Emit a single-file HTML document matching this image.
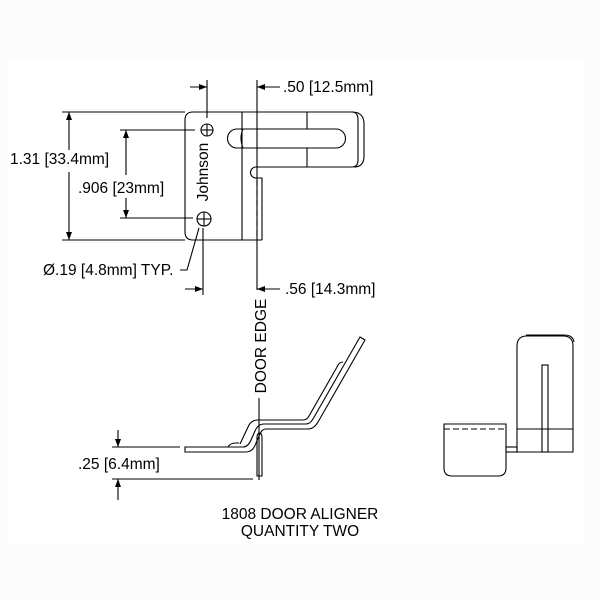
<!DOCTYPE html>
<html><head><style>
body{margin:0;background:#fcfcfc}
svg{display:block}
text{font-family:"Liberation Sans",Arial,sans-serif;fill:#000}
</style></head><body>
<svg width="600" height="600" viewBox="0 0 600 600" xmlns="http://www.w3.org/2000/svg">
<defs><marker id="a" markerWidth="8" markerHeight="6" refX="8" refY="3" orient="auto" markerUnits="userSpaceOnUse"><path d="M0,0L8,3L0,6z" fill="#000"/></marker></defs>
<rect x="7" y="60" width="578" height="485" fill="#fff"/>
<g fill="none" stroke="#000" stroke-width="1.1">
<!-- plate -->
<path d="M262,240 H193 Q185,240 185,232 V120 Q185,112 193,112 H352 Q358,112 358,120 V160 Q358,167 352,167 H256 M262,240 V178 H256"/>
<path d="M352,112 Q364,112 364,124 V156 Q364,167 354,167"/>
<path d="M256,167 A5.5,5.5 0 0 0 256,178"/>
<line x1="242" y1="112" x2="242" y2="240"/>
<path d="M237,129 H336 A9.5,9.5 0 0 1 336,148 H237 A9.5,9.5 0 0 1 237,129 Z"/>
<path d="M243,129 Q239,138 243,148"/>
<line x1="307" y1="112" x2="307" y2="129"/><line x1="307" y1="148" x2="307" y2="167"/>
<line x1="257" y1="180" x2="257" y2="240" stroke-dasharray="6,4"/>
<circle cx="207" cy="130" r="6"/><line x1="201" y1="130" x2="213" y2="130"/><line x1="207" y1="124" x2="207" y2="136"/>
<circle cx="204" cy="219" r="7"/><line x1="197" y1="219" x2="211" y2="219"/><line x1="204" y1="212" x2="204" y2="226"/>
<!-- dims -->
<line x1="62" y1="112" x2="185" y2="112"/><line x1="62" y1="240" x2="185" y2="240"/>
<line x1="69" y1="150" x2="69" y2="112" marker-end="url(#a)"/><line x1="69" y1="172" x2="69" y2="240" marker-end="url(#a)"/>
<line x1="120" y1="130" x2="195" y2="130"/><line x1="120" y1="218" x2="193" y2="218"/>
<line x1="126" y1="175" x2="126" y2="130" marker-end="url(#a)"/><line x1="126" y1="198" x2="126" y2="218" marker-end="url(#a)"/>
<line x1="207" y1="80" x2="207" y2="118"/>
<line x1="190" y1="87" x2="207" y2="87" marker-end="url(#a)"/>
<line x1="257" y1="80" x2="257" y2="290"/>
<line x1="280" y1="87" x2="257" y2="87" marker-end="url(#a)"/>
<line x1="203" y1="228" x2="203" y2="295"/>
<line x1="185" y1="289" x2="203" y2="289" marker-end="url(#a)"/>
<line x1="280" y1="289" x2="257" y2="289" marker-end="url(#a)"/>
<path d="M180,270 H187 L199,228"/>
<line x1="259" y1="398" x2="259" y2="480"/>
<!-- side view -->
<path d="M185,447 H243 Q248,447 251,440 L255,431 Q258,424 264,424 H306 Q310,424 313,419 L360,337 L365,340 L318,422 Q314,429 308,429 H266 Q262,429 260,434 L256,443 Q253,452 246,452 H185 Z"/>
<path d="M228,447 Q230,443 236,443 H239"/>
<path d="M337,367 Q339,362 343,362"/>
<path d="M240,444 L249,425 Q252,420 258,420 H303 Q307,420 309,416 L337,367"/>
<path d="M257,476 V438 Q257,433 259.5,433 Q262,433 262,438 V476 Z"/>
<line x1="112" y1="447" x2="180" y2="447"/><line x1="112" y1="479" x2="253" y2="479"/>
<line x1="118" y1="430" x2="118" y2="447" marker-end="url(#a)"/>
<line x1="118" y1="500" x2="118" y2="479" marker-end="url(#a)"/>
<!-- end view -->
<path d="M517,452 V346 Q517,336 527,336 H563 Q573,336 573,346 V452 Z"/>
<path d="M526,335 H564 Q573,335 574,342"/>
<rect x="542" y="365" width="6" height="87"/>
<line x1="517" y1="429" x2="573" y2="429"/>
<path d="M444,424 H506 V468 Q506,476 498,476 H452 Q444,476 444,468 Z"/>
<line x1="444" y1="429" x2="506" y2="429" stroke-dasharray="6,3"/>
<rect x="506" y="447" width="11" height="5"/>
</g>
<g font-size="15.5">
<text x="203" y="172" text-anchor="middle" transform="rotate(-90 203 172)" dy="5">Johnson</text>
<text x="10" y="164">1.31 [33.4mm]</text>
<text x="78" y="193">.906 [23mm]</text>
<text x="283" y="92">.50 [12.5mm]</text>
<text x="285" y="294">.56 [14.3mm]</text>
<text x="43" y="275">Ø.19 [4.8mm] TYP.</text>
<text x="261" y="346" text-anchor="middle" transform="rotate(-90 261 346)" dy="5">DOOR EDGE</text>
<text x="78" y="469">.25 [6.4mm]</text>
<text x="300" y="519" text-anchor="middle">1808 DOOR ALIGNER</text>
<text x="300" y="536" text-anchor="middle">QUANTITY TWO</text>
</g>
</svg>
</body></html>
